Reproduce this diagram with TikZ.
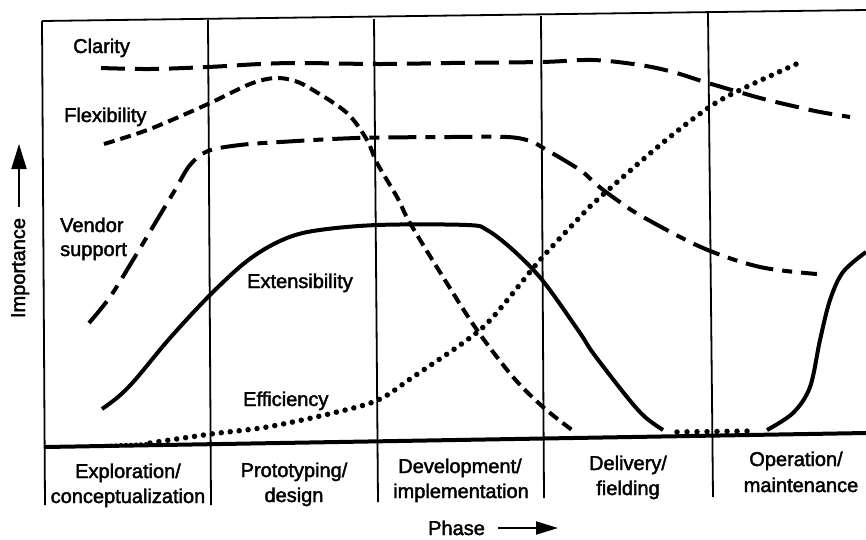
\documentclass[tikz,border=0pt]{standalone}
\usepackage{fontspec}
\setmainfont{Liberation Sans}
\newfontfamily\lblfont{Liberation Sans}[FakeBold=2]
\usetikzlibrary{arrows.meta}
\begin{document}
\begin{tikzpicture}[x=1pt,y=-1pt,
  lbl/.style={font=\lblfont\fontsize{20}{25}\selectfont, inner sep=0pt},
  frame/.style={line width=1.8pt},
  curve/.style={line width=4pt, smooth, tension=0.55},
  clar/.style={curve, dash pattern=on 24pt off 10pt},
  flex/.style={curve, dash pattern=on 11pt off 6pt},
  vend/.style={curve, dash pattern=on 28pt off 9pt on 10pt off 9pt},
  effi/.style={curve, line cap=round, dash pattern=on 0pt off 9pt, line width=5.5pt},
  effidense/.style={line width=4pt, line cap=round, dash pattern=on 0pt off 5pt},
  exte/.style={curve},
  tick/.style={line width=5.5pt, line cap=round, dash pattern=on 0pt off 10pt}]
\useasboundingbox (0,0) rectangle (866,539);
% frame
\draw[frame] (42,21) -- (866,10);
\draw[frame] (42,21) -- (45,505);
\draw[frame] (208,20) -- (211,505);
\draw[frame] (374,19) -- (378,502);
\draw[frame] (541,16) -- (544,498);
\draw[frame] (708,13) -- (713,497);
\draw[line width=4pt] (45,447) -- (866,433);
% curves
\draw[clar] plot coordinates {(101,68) (150,69) (208,67) (260,64) (300,63) (380,64) (450,63) (541,62) (593,60) (640,65) (673,72) (708,83) (760,98) (793,106) (820,112) (850,117)};
\draw[flex] plot coordinates {(104,144) (150,129) (208,104) (250,84) (275,78) (295,81) (313,90) (347,113) (367,140) (377,163) (397,197) (410,223) (443,277) (477,330) (513,377) (543,407) (572,430)};
\draw[vend] plot coordinates {(89,323) (110,297) (133,260) (157,220) (175,190) (190,165) (208,151) (240,145) (280,142) (357,138) (450,137) (507,137) (530,141) (545,149) (580,170) (597,185) (617,200) (643,217) (703,248) (760,267) (817,274)};
\draw[exte] plot coordinates {(102,409) (118,397) (135,380) (170,338) (210,295) (247,261) (280,241) (313,231) (377,225) (467,225) (487,230) (513,250) (543,281) (580,333) (593,353) (627,397) (645,417) (663,430)};
\draw[tick] (677,432) -- (755,431);
\draw[exte] plot coordinates {(767,430) (793,413) (810,387) (820,340) (830,300) (843,272) (866,252)};
\draw[effidense] (101,446) -- (146,444);
\draw[effi] plot coordinates {(150,443) (211,434) (267,427) (333,413) (378,400) (413,377) (467,340) (493,317) (540,260) (580,217) (597,200) (660,145) (708,108) (740,90) (803,61)};
% curve labels
\node[lbl, anchor=base west] (lclar) at (73,53) {Clarity};
\node[lbl, anchor=base west] (lflex) at (64,122) {Flexibility};
\node[lbl, anchor=base west] (lvend1) at (60,232) {Vendor};
\node[lbl, anchor=base west] (lvend2) at (60,256) {support};
\node[lbl, anchor=base west] (lexte) at (247,288) {Extensibility};
\node[lbl, anchor=base west] (leffi) at (243,406) {Efficiency};
% phase labels
\node[lbl, anchor=base] (p1a) at (128,478) {Exploration/};
\node[lbl, anchor=base] (p1b) at (128,503) {conceptualization};
\node[lbl, anchor=base] (p2a) at (294,477) {Prototyping/};
\node[lbl, anchor=base] (p2b) at (294,502) {design};
\node[lbl, anchor=base] (p3a) at (460,473) {Development/};
\node[lbl, anchor=base] (p3b) at (461,498) {implementation};
\node[lbl, anchor=base] (p4a) at (628,470) {Delivery/};
\node[lbl, anchor=base] (p4b) at (628,495) {fielding};
\node[lbl, anchor=base] (p5a) at (796,466) {Operation/};
\node[lbl, anchor=base] (p5b) at (801,492) {maintenance};
% axis labels
\node[lbl, anchor=base west] (phase) at (428,535) {Phase};
\coordinate (pa0) at (498,528);
\coordinate (pa1) at (558,528);
\draw[line width=2pt, -{Triangle[length=22pt,width=13pt]}] (pa0) -- (pa1);
\node[lbl, rotate=90, anchor=base] (imp) at (25,268) {Importance};
\coordinate (ia0) at (19,207);
\coordinate (ia1) at (19,144);
\draw[line width=2pt, -{Triangle[length=25pt,width=15pt]}] (ia0) -- (ia1);
\end{tikzpicture}
\end{document}
